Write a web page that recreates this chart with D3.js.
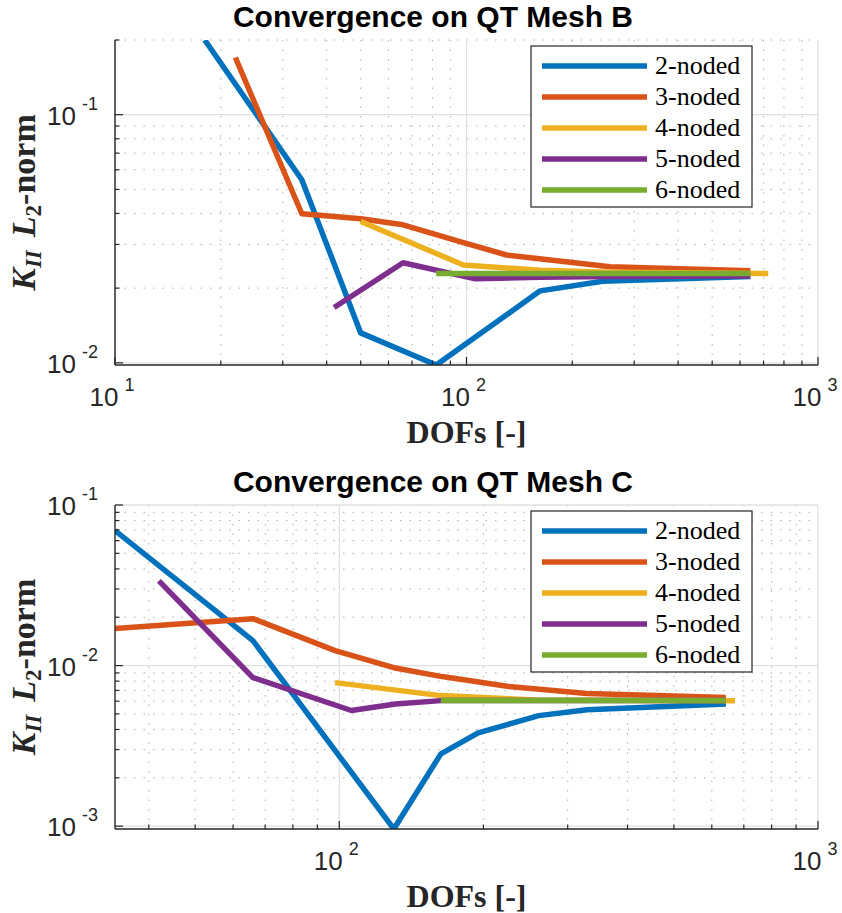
<!DOCTYPE html>
<html>
<head>
<meta charset="utf-8">
<script src="https://cdn.jsdelivr.net/npm/d3@7/dist/d3.min.js"></script>
<style>
  body { margin: 0; background: #fff; }
  svg { display: block; }
</style>
</head>
<body>
<svg id="chart" width="842" height="913"></svg>
<script>
const seriesNames = ['2-noded', '3-noded', '4-noded', '5-noded', '6-noded'];
const lineColors = ['#0072BD', '#D95319', '#EDB120', '#7E2F8E', '#77AC30'];

// QT Mesh B : [DOFs, K_II L2 error]
const meshB2 = [[18, 0.200], [34, 0.0547], [50, 0.0132], [82, 0.0098], [162, 0.0195], [244, 0.0213], [642, 0.0223]];
const meshB3 = [[22, 0.170], [34, 0.0399], [50, 0.0381], [66, 0.0360], [98, 0.0305], [130, 0.0272], [256, 0.0244], [642, 0.0235]];
const meshB4 = [[50, 0.0371], [98, 0.0248], [162, 0.0236], [258, 0.0232], [722, 0.0229]];
const meshB5 = [[42, 0.0167], [66, 0.0253], [106, 0.0218], [162, 0.0221], [258, 0.0223], [642, 0.0224]];
const meshB6 = [[82, 0.0229], [162, 0.0229], [258, 0.0229], [642, 0.0229]];

// QT Mesh C
const meshC2 = [[34, 0.0693], [66, 0.0143], [130, 0.00096], [163, 0.00282], [195, 0.00381], [261, 0.00488], [329, 0.00530], [642, 0.00577]];
const meshC3 = [[34, 0.0170], [66, 0.0196], [98, 0.0124], [130, 0.0097], [164, 0.00854], [226, 0.0074], [329, 0.00669], [642, 0.00632]];
const meshC4 = [[98, 0.00783], [163, 0.0065], [258, 0.0061], [671, 0.00603]];
const meshC5 = [[42, 0.0337], [66, 0.00842], [106, 0.00525], [131, 0.00577], [163, 0.00605], [642, 0.00605]];
const meshC6 = [[163, 0.00605], [258, 0.00605], [642, 0.00605]];

const panels = [
    { id: 'B', title: 'Convergence on QT Mesh B', series: [meshB2, meshB3, meshB4, meshB5, meshB6],
      xDomain: [10, 1000], yDomain: [0.0098, 0.2], top: 40, bottom: 365 },
    { id: 'C', title: 'Convergence on QT Mesh C', series: [meshC2, meshC3, meshC4, meshC5, meshC6],
      xDomain: [34, 1000], yDomain: [0.00096, 0.1], top: 505, bottom: 829 }
];

const left = 115, right = 818;
const axisColor = '#262626';
const svg = d3.select('#chart');

// powers of ten and the k*10^n in between
const logTicks = (domain) => {
    const major = [], minor = [];
    const lo = Math.floor(Math.log10(domain[0])), hi = Math.ceil(Math.log10(domain[1]));
    for (let n = lo; n <= hi; n++) {
        for (let k = 1; k <= 9; k++) {
            const v = k * Math.pow(10, n);
            if (v < domain[0] * 0.999 || v > domain[1] * 1.001) continue;
            (k === 1 ? major : minor).push(v);
        }
    }
    return { major, minor };
};

const drawPanel = (p) => {
    const xScale = d3.scaleLog().domain(p.xDomain).range([left, right]);
    const yScale = d3.scaleLog().domain(p.yDomain).range([p.bottom, p.top]);
    const xt = logTicks(p.xDomain), yt = logTicks(p.yDomain);
    const g = svg.append('g').attr('id', `panel${p.id}`);

    // grid
    const grid = g.append('g');
    grid.selectAll('.xminor').data(xt.minor).enter().append('line')
        .attr('x1', d => xScale(d)).attr('x2', d => xScale(d))
        .attr('y1', p.top).attr('y2', p.bottom)
        .attr('stroke', '#b0b0b0').attr('stroke-width', 1).attr('stroke-dasharray', '1.5,8');
    grid.selectAll('.yminor').data(yt.minor).enter().append('line')
        .attr('y1', d => yScale(d)).attr('y2', d => yScale(d))
        .attr('x1', left).attr('x2', right)
        .attr('stroke', '#b0b0b0').attr('stroke-width', 1).attr('stroke-dasharray', '1.5,8');
    grid.selectAll('.xmajor').data(xt.major).enter().append('line')
        .attr('x1', d => xScale(d)).attr('x2', d => xScale(d))
        .attr('y1', p.top).attr('y2', p.bottom)
        .attr('stroke', '#e0e0e0').attr('stroke-width', 1.3);
    grid.selectAll('.ymajor').data(yt.major).enter().append('line')
        .attr('y1', d => yScale(d)).attr('y2', d => yScale(d))
        .attr('x1', left).attr('x2', right)
        .attr('stroke', '#e0e0e0').attr('stroke-width', 1.3);

    // data lines, clipped to the axes box
    g.append('clipPath').attr('id', `clip${p.id}`)
        .append('rect').attr('x', left).attr('y', p.top)
        .attr('width', right - left).attr('height', p.bottom - p.top);
    const line = d3.line().x(d => xScale(d[0])).y(d => yScale(d[1]));
    g.append('g').attr('clip-path', `url(#clip${p.id})`)
        .selectAll('path').data(p.series).enter().append('path')
        .attr('d', line)
        .attr('fill', 'none')
        .attr('stroke', (d, i) => lineColors[i])
        .attr('stroke-width', 5.5)
        .attr('stroke-linejoin', 'round');

    // axes lines and inward ticks
    const ax = g.append('g').attr('stroke', axisColor);
    ax.append('line').attr('x1', left).attr('x2', left).attr('y1', p.top).attr('y2', p.bottom).attr('stroke-width', 1.4);
    ax.append('line').attr('x1', left).attr('x2', right).attr('y1', p.bottom).attr('y2', p.bottom).attr('stroke-width', 1.4);
    const tickLen = (major) => major ? 8 : 4.5;
    [[xt.major, true], [xt.minor, false]].forEach(([vals, major]) => {
        ax.selectAll(null).data(vals).enter().append('line')
            .attr('x1', d => xScale(d)).attr('x2', d => xScale(d))
            .attr('y1', p.bottom).attr('y2', p.bottom - tickLen(major)).attr('stroke-width', 1.2);
    });
    [[yt.major, true], [yt.minor, false]].forEach(([vals, major]) => {
        ax.selectAll(null).data(vals).enter().append('line')
            .attr('y1', d => yScale(d)).attr('y2', d => yScale(d))
            .attr('x1', left).attr('x2', left + tickLen(major)).attr('stroke-width', 1.2);
    });

    // tick labels 10^n
    const tickFont = '"Liberation Sans", Arial, sans-serif';
    const xl = g.selectAll('.xlab').data(xt.major).enter().append('text')
        .attr('x', d => xScale(d) - 3).attr('y', p.bottom + 41)
        .attr('text-anchor', 'middle').attr('font-family', tickFont)
        .attr('font-size', 26).attr('fill', axisColor);
    xl.append('tspan').text('10');
    xl.append('tspan').attr('dx', 6).attr('dy', -15).attr('font-size', 18)
        .text(d => Math.round(Math.log10(d)));
    const yl = g.selectAll('.ylab').data(yt.major).enter().append('text')
        .attr('x', 98).attr('y', d => yScale(d) + 10)
        .attr('text-anchor', 'end').attr('font-family', tickFont)
        .attr('font-size', 26).attr('fill', axisColor);
    yl.append('tspan').text('10');
    yl.append('tspan').attr('dx', 6).attr('dy', -15).attr('font-size', 18)
        .text(d => Math.round(Math.log10(d)));

    // axis labels
    const serif = '"Liberation Serif", "Times New Roman", serif';
    g.append('text')
        .attr('x', (left + right) / 2).attr('y', p.bottom + 78)
        .attr('text-anchor', 'middle').attr('font-family', serif)
        .attr('font-weight', 'bold').attr('font-size', 32).attr('fill', axisColor)
        .text('DOFs [-]');
    const ylab = g.append('text')
        .attr('transform', `translate(35,${(p.top + p.bottom) / 2}) rotate(-90)`)
        .attr('text-anchor', 'middle').attr('font-family', serif)
        .attr('font-weight', 'bold').attr('font-size', 34).attr('fill', axisColor);
    ylab.append('tspan').attr('font-style', 'italic').text('K');
    ylab.append('tspan').attr('font-style', 'italic').attr('font-size', 23).attr('dy', 6).text('II');
    ylab.append('tspan').attr('font-style', 'italic').attr('dy', -6).attr('dx', 13).text('L');
    ylab.append('tspan').attr('font-size', 23).attr('dy', 6).text('2');
    ylab.append('tspan').attr('dy', -6).text('-norm');

    // title
    g.append('text')
        .attr('x', 433).attr('y', p.top - 13)
        .attr('text-anchor', 'middle').attr('font-family', tickFont)
        .attr('font-weight', 'bold').attr('font-size', 30).attr('fill', '#000')
        .text(p.title);

    // legend
    const lg = g.append('g').attr('transform', `translate(531,${p.top + 6})`);
    lg.append('rect').attr('width', 221).attr('height', 161)
        .attr('fill', '#fff').attr('stroke', axisColor).attr('stroke-width', 1.2);
    const rows = lg.selectAll('.row').data(seriesNames).enter().append('g')
        .attr('transform', (d, i) => `translate(0,${20 + i * 31})`);
    rows.append('line').attr('x1', 11).attr('x2', 116)
        .attr('stroke', (d, i) => lineColors[i]).attr('stroke-width', 5.5);
    rows.append('text').attr('x', 124).attr('y', 8)
        .attr('font-family', serif).attr('font-size', 26).attr('fill', '#000')
        .text(d => d);
};

panels.forEach(drawPanel);
</script>
</body>
</html>
